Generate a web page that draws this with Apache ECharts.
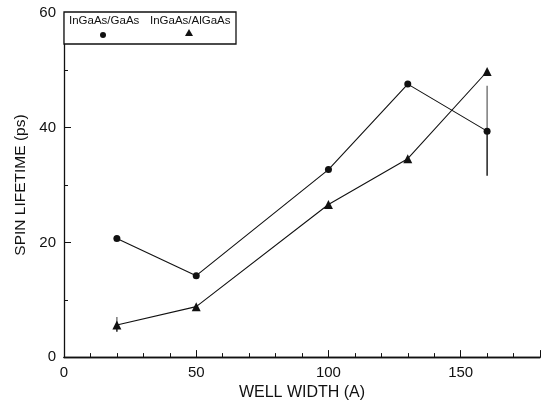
<!DOCTYPE html>
<html>
<head>
<meta charset="utf-8">
<script src="https://cdn.jsdelivr.net/npm/echarts@6/dist/echarts.min.js"></script>
<style>
  html, body { margin: 0; padding: 0; background: #fff; }
  #chart { width: 543px; height: 406px; }
</style>
</head>
<body>
<div id="chart"></div>
<script>
// Well widths (Angstrom)
const wellWidths = [20, 50, 100, 130, 160];
// Spin lifetime (ps) for each structure
const gaasLifetime = [20.7, 14.2, 32.7, 47.6, 39.4];
const algaasLifetime = [5.6, 8.8, 26.6, 34.6, 49.8];
// Error bars: [well width, low, centre, high]
const gaasErrors = [[160, 31.6, 39.4, 47.3]];
const algaasErrors = [[20, 4.4, 5.6, 7.0]];
const legendNames = ['InGaAs/GaAs', 'InGaAs/AlGaAs'];

const ink = '#111';
const font = '"Liberation Sans", Arial, sans-serif';

function pairs(xs, ys) { return xs.map((x, i) => [x, ys[i]]); }

// Vertical error bar; the upper half is printed a little lighter
function errorBar(params, api) {
  const x = api.value(0);
  const lo = api.coord([x, api.value(1)]);
  const mid = api.coord([x, api.value(2)]);
  const hi = api.coord([x, api.value(3)]);
  return {
    type: 'group',
    children: [{
      type: 'line',
      shape: { x1: lo[0], y1: lo[1], x2: mid[0], y2: mid[1] },
      style: { stroke: ink, lineWidth: 1.4 }
    }, {
      type: 'line',
      shape: { x1: mid[0], y1: mid[1], x2: hi[0], y2: hi[1] },
      style: { stroke: '#666', lineWidth: 1.3 }
    }]
  };
}

const chart = echarts.init(document.getElementById('chart'), null, { renderer: 'canvas' });

chart.setOption({
  animation: false,
  backgroundColor: '#fff',
  grid: { left: 64, top: 13, width: 486, height: 345 },
  xAxis: [{
    type: 'value', min: 0, max: 180, interval: 50,
    name: 'WELL WIDTH (A)', nameLocation: 'middle', nameGap: 25,
    nameTextStyle: { fontFamily: font, fontSize: 16, color: ink },
    axisLine: { show: true, onZero: false, lineStyle: { color: ink, width: 1.3 } },
    axisTick: { show: true, inside: true, length: 7, lineStyle: { color: ink, width: 1 } },
    minorTick: { show: true, splitNumber: 5, length: 4, lineStyle: { color: ink, width: 1 } },
    axisLabel: { fontFamily: font, fontSize: 15, color: ink, margin: 8,
      formatter: v => (v % 50 === 0 && v <= 150) ? String(v) : '' },
    splitLine: { show: false }
  }, {
    type: 'value', min: 0, max: 180, position: 'top',
    axisLine: { show: true, lineStyle: { color: ink, width: 1.3 } },
    axisTick: { show: false }, axisLabel: { show: false }, splitLine: { show: false }
  }],
  yAxis: {
    type: 'value', min: 0, max: 60, interval: 20,
    name: 'SPIN LIFETIME (ps)', nameLocation: 'middle', nameGap: 35,
    nameTextStyle: { fontFamily: font, fontSize: 15.5, color: ink },
    axisLine: { show: true, onZero: false, lineStyle: { color: ink, width: 1.3 } },
    axisTick: { show: true, inside: true, length: 7, lineStyle: { color: ink, width: 1 } },
    minorTick: { show: true, splitNumber: 2, length: 4, lineStyle: { color: ink, width: 1 } },
    axisLabel: { fontFamily: font, fontSize: 15, color: ink, margin: 8 },
    splitLine: { show: false }
  },
  series: [{
    name: legendNames[0], type: 'line', data: pairs(wellWidths, gaasLifetime),
    symbol: 'circle', symbolSize: 7,
    itemStyle: { color: ink }, lineStyle: { color: ink, width: 1.1 }, z: 3
  }, {
    name: legendNames[1], type: 'line', data: pairs(wellWidths, algaasLifetime),
    symbol: 'triangle', symbolSize: 9,
    itemStyle: { color: ink }, lineStyle: { color: ink, width: 1.1 }, z: 3
  }, {
    type: 'custom', data: gaasErrors, renderItem: errorBar, z: 2
  }, {
    type: 'custom', data: algaasErrors, renderItem: errorBar, z: 2
  }],
  graphic: [
    { type: 'rect', shape: { x: 64, y: 12, width: 172, height: 32 },
      style: { fill: '#fff', stroke: ink, lineWidth: 1.3 }, z: 10 },
    { type: 'text', x: 69, y: 15,
      style: { text: legendNames[0], font: '11.5px ' + font, fill: ink }, z: 11 },
    { type: 'text', x: 150, y: 15,
      style: { text: legendNames[1], font: '11.5px ' + font, fill: ink }, z: 11 },
    { type: 'circle', shape: { cx: 103, cy: 35, r: 3 }, style: { fill: ink }, z: 11 },
    { type: 'polygon', shape: { points: [[189, 29], [185, 36], [193, 36]] },
      style: { fill: ink }, z: 11 }
  ]
});
</script>
</body>
</html>
